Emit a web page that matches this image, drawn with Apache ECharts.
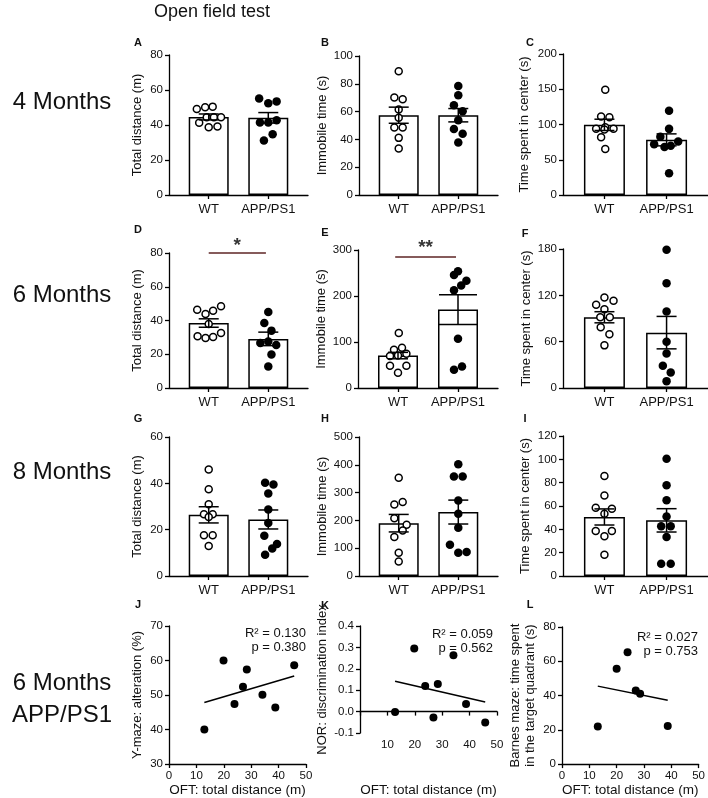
<!DOCTYPE html>
<html><head><meta charset="utf-8">
<script src="https://cdn.jsdelivr.net/npm/echarts@6/dist/echarts.min.js"></script>
<style>html,body{margin:0;padding:0;background:#fff}#c{width:708px;height:798px}</style>
</head><body><div id="c"></div>
<script>
// ---------------- data ----------------
const groups = ['WT', 'APP/PS1'];
const rowLabels = ['4 Months', '6 Months', '8 Months', '6 Months\nAPP/PS1'];
const yTitles = {
  dist: 'Total distance (m)', immob: 'Immobile time (s)', center: 'Time spent in center (s)',
  ymaze: 'Y-maze: alteration (%)', nor: 'NOR: discrimination index',
  barnes: 'Barnes maze: time spent\nin the target quadrant (s)'
};
const xTitleOFT = 'OFT: total distance (m)';

// Panel A
const aWT = [49.1, 50.1, 50.5, 41.3, 44.4, 44.4, 44.4, 38.7, 39.2];
const aWTx = [-0.30, -0.09, 0.10, -0.24, -0.05, 0.13, 0.31, 0.00, 0.22];
const aAPP = [55.2, 52.4, 53.5, 41.5, 41.5, 42.7, 34.7, 31.2];
const aAPPx = [-0.23, 0.00, 0.21, -0.21, 0.00, 0.21, 0.11, -0.11];
const aMean = [44.6, 44.1], aSem = [1.7, 3.0];
// Panel B
const bWT = [89.0, 70.1, 68.9, 61.5, 55.5, 48.6, 48.6, 41.1, 33.5];
const bWTx = [0, -0.11, 0.10, 0, 0, -0.11, 0.10, 0, 0];
const bAPP = [78.5, 71.8, 64.6, 60.3, 53.8, 47.4, 44.0, 37.8];
const bAPPx = [0, 0, -0.11, 0.11, 0, -0.11, 0.11, 0];
const bMean = [57.4, 57.4], bSem = [5.8, 4.8];
// Panel C
const cWT = [149.3, 111.4, 110.4, 94.0, 96.0, 94.0, 82.0, 65.4, 93.0];
const cWTx = [0.02, -0.08, 0.12, -0.20, 0.02, 0.22, -0.08, 0.02, 0.0];
const cAPP = [119.4, 93.8, 82.5, 72.0, 70.0, 68.0, 76.0, 31.0];
const cAPPx = [0.06, 0.06, -0.15, -0.30, 0.10, -0.05, 0.28, 0.06];
const cMean = [99.5, 78.2], cSem = [8.0, 8.5];
// Panel D
const dWT = [46.4, 43.9, 45.8, 48.4, 37.9, 30.6, 29.6, 30.2, 32.6];
const dWTx = [-0.29, -0.08, 0.11, 0.31, 0, -0.28, -0.08, 0.11, 0.31];
const dAPP = [45.1, 38.5, 34.0, 26.7, 27.5, 25.5, 19.8, 12.8];
const dAPPx = [0, -0.10, 0.08, -0.20, 0, 0.20, 0.08, 0];
const dMean = [38.5, 29.1], dSem = [2.5, 4.0];
// Panel E
const eWT = [119.6, 83.3, 87.6, 69.5, 70.9, 74.5, 48.4, 48.4, 33.1];
const eWTx = [0.02, -0.10, 0.10, -0.20, 0, 0.21, -0.20, 0.21, 0];
const eAPP = [254.0, 245.5, 233.0, 223.0, 212.7, 107.3, 39.6, 46.9];
const eAPPx = [0, -0.10, 0.21, 0.08, -0.10, 0, -0.10, 0.10];
const eMean = [70.5, 170.5], eSem = [7.0, 32.3];
// Panel F
const fWT = [107.7, 117.2, 113.1, 102.0, 91.6, 91.6, 78.6, 69.5, 55.2];
const fWTx = [-0.20, 0, 0.22, 0, -0.10, 0.13, -0.09, 0.12, 0];
const fAPP = [179.1, 135.8, 99.0, 60.0, 44.8, 28.8, 20.1, 8.9];
const fAPPx = [0, 0, 0, 0, 0, -0.09, 0.10, 0];
const fMean = [91.6, 71.7], fSem = [7.2, 21.0];
// Panel G
const gWT = [46.0, 37.4, 31.0, 26.7, 26.7, 25.5, 17.6, 17.6, 12.9];
const gWTx = [0, 0, 0, -0.12, 0.10, 0, -0.12, 0.10, 0];
const gAPP = [40.3, 39.5, 35.6, 28.7, 22.9, 17.4, 13.8, 11.9, 9.2];
const gAPPx = [-0.08, 0.13, 0, 0, 0, -0.10, 0.22, 0.10, -0.08];
const gMean = [26.4, 24.4], gSem = [3.5, 4.1];
// Panel H
const hWT = [353.5, 257.5, 266.0, 208.0, 184.0, 164.0, 140.0, 83.4, 52.2];
const hWTx = [0, -0.11, 0.10, -0.11, 0.20, 0.10, -0.11, 0, 0];
const hAPP = [401.6, 358.3, 358.3, 272.0, 224.0, 173.5, 112.4, 83.4, 86.0];
const hAPPx = [0, -0.11, 0.11, 0, 0, 0, -0.21, 0, 0.21];
const hMean = [190, 230], hSem = [31.5, 43];
// Panel I
const iWT = [85.7, 69.1, 58.6, 57.7, 53.4, 38.6, 38.6, 34.0, 18.3];
const iWTx = [0, 0, -0.21, 0.18, 0, -0.21, 0.18, 0, 0];
const iAPP = [100.6, 77.7, 64.9, 51.1, 42.6, 42.6, 33.4, 10.6, 10.6];
const iAPPx = [0, 0, 0, 0, -0.13, 0.10, 0, -0.13, 0.10];
const iMean = [50.6, 47.7], iSem = [6.9, 10.0];
// Panel J
const jX = [12.9, 19.9, 23.9, 27.0, 28.4, 34.1, 38.8, 45.7];
const jY = [40.0, 60.0, 47.4, 52.4, 57.4, 50.1, 46.4, 58.6];
const jFit = [[12.9, 47.8], [45.7, 55.5]];
const jStats = ['R\u00b2 = 0.130', 'p = 0.380'];
// Panel K
const kX = [12.8, 19.8, 23.8, 26.8, 28.4, 34.1, 38.7, 45.7];
const kY = [-0.002, 0.295, 0.120, -0.028, 0.129, 0.263, 0.036, -0.051];
const kFit = [[12.8, 0.142], [45.7, 0.045]];
const kStats = ['R\u00b2 = 0.059', 'p = 0.562'];
// Panel L
const lX = [13.1, 20.0, 24.0, 27.0, 28.6, 38.7];
const lY = [21.9, 55.6, 65.2, 42.9, 41.0, 22.3];
const lFit = [[13.1, 45.5], [38.7, 37.2]];
const lStats = ['R\u00b2 = 0.027', 'p = 0.753'];
// significance marks
const sigD = '*', sigE = '**';

// ---------------- chart building ----------------
const FONT = '"Liberation Sans", Arial, Helvetica, sans-serif';
const chart = echarts.init(document.getElementById('c'));
const grids = [], xAxes = [], yAxes = [], series = [], graphics = [];
const LINE = { color: '#000', width: 1.3 };
const POS = [1, 2.5];

function yAxisCfg(i, min, max, interval, name, gap, fmt) {
  return {
    type: 'value', gridIndex: i, min, max, interval,
    splitLine: { show: false },
    axisLine: { show: true, onZero: true, lineStyle: LINE },
    axisTick: { show: true, length: 4, lineStyle: LINE },
    axisLabel: { color: '#111', fontSize: 11.5, fontFamily: FONT, margin: 6, formatter: fmt },
    name, nameLocation: 'middle', nameRotate: 90, nameGap: gap,
    nameTextStyle: { color: '#111', fontSize: 13, fontFamily: FONT, lineHeight: 15 }
  };
}

function errRender(caps) {
  return function (params, api) {
    const x = api.value(0), lo = api.value(1), hi = api.value(2);
    const h = caps[api.value(3)];
    const a = api.coord([x, lo]), b = api.coord([x, hi]);
    const st = { stroke: '#000', lineWidth: 1.5 };
    return {
      type: 'group', children: [
        { type: 'line', shape: { x1: a[0], y1: a[1], x2: b[0], y2: b[1] }, style: st },
        { type: 'line', shape: { x1: b[0] - h, y1: b[1], x2: b[0] + h, y2: b[1] }, style: st },
        { type: 'line', shape: { x1: a[0] - h, y1: a[1], x2: a[0] + h, y2: a[1] }, style: st }
      ]
    };
  };
}

function barPanel(p) {
  const i = grids.length;
  grids.push({ left: p.box[0], top: p.box[1], width: p.box[2], height: p.box[3] });
  xAxes.push({
    type: 'value', gridIndex: i, min: 0, max: 3.5,
    splitLine: { show: false },
    axisLine: { show: true, onZero: false, lineStyle: LINE },
    axisTick: { show: true, length: 4, customValues: POS, lineStyle: LINE },
    axisLabel: { customValues: POS, color: '#111', fontSize: 13, fontFamily: FONT, margin: 8,
      formatter: v => groups[Math.abs(v - POS[0]) < 0.01 ? 0 : 1] }
  });
  yAxes.push(yAxisCfg(i, p.y[0], p.y[1], p.y[2], p.name, p.gap));
  const ax = { xAxisIndex: i, yAxisIndex: i, silent: true };
  series.push(Object.assign({
    type: 'bar', barWidth: p.barW, z: 2,
    data: p.mean.map((m, k) => [POS[k], m]),
    itemStyle: { color: '#fff', borderColor: '#000', borderWidth: 1.5 }
  }, ax));
  series.push(Object.assign({
    type: 'scatter', symbol: 'circle', symbolSize: 7, z: 3,
    data: p.wt.map((v, k) => [POS[0] + p.wtx[k], v]),
    itemStyle: { color: '#fff', borderColor: '#000', borderWidth: 1.5, opacity: 1 }
  }, ax));
  series.push(Object.assign({
    type: 'scatter', symbol: 'circle', symbolSize: 8.5, z: 3,
    data: p.app.map((v, k) => [POS[1] + p.appx[k], v]),
    itemStyle: { color: '#000', opacity: 1 }
  }, ax));
  series.push(Object.assign({
    type: 'custom', z: 4, renderItem: errRender(p.caps || [10, 10]),
    encode: { x: 0, y: [1, 2] },
    data: p.mean.map((m, k) => [POS[k], m - p.sem[k], m + p.sem[k], k])
  }, ax));
  if (p.sig) {
    series.push(Object.assign({
      type: 'line', z: 3, showSymbol: false, clip: false,
      data: [[p.sig.x[0], p.sig.y], [p.sig.x[1], p.sig.y]],
      lineStyle: { color: '#5e2424', width: 1.5 }
    }, ax));
    series.push(Object.assign({
      type: 'scatter', z: 5, symbolSize: 0, clip: false,
      data: [[(p.sig.x[0] + p.sig.x[1]) / 2, p.sig.y]],
      label: { show: true, position: 'inside', offset: [0, p.sig.off], formatter: p.sig.text,
        color: '#000', fontSize: 19, fontWeight: 'bold', fontFamily: FONT }
    }, ax));
  }
}

function scatterPanel(p) {
  const i = grids.length;
  grids.push({ left: p.box[0], top: p.box[1], width: p.box[2], height: p.box[3] });
  xAxes.push({
    type: 'value', gridIndex: i, min: 0, max: 50, interval: 10,
    splitLine: { show: false },
    axisLine: { show: true, onZero: true, lineStyle: LINE },
    axisTick: { show: true, length: 4, lineStyle: LINE },
    axisLabel: { color: '#111', fontSize: 11.5, fontFamily: FONT, margin: 6,
      formatter: v => (p.hideZero && v === 0) ? '' : String(v) },
    name: xTitleOFT, nameLocation: 'middle', nameGap: p.xGap,
    nameTextStyle: { color: '#111', fontSize: 13.5, fontFamily: FONT }
  });
  yAxes.push(yAxisCfg(i, p.y[0], p.y[1], p.y[2], p.name, p.gap, p.fmt));
  const ax = { xAxisIndex: i, yAxisIndex: i, silent: true };
  series.push(Object.assign({
    type: 'scatter', symbol: 'circle', symbolSize: 8, z: 3,
    data: p.xs.map((x, k) => [x, p.ys[k]]), itemStyle: { color: '#000', opacity: 1 }
  }, ax));
  series.push(Object.assign({
    type: 'line', z: 2, showSymbol: false, data: p.fit,
    lineStyle: { color: '#000', width: 1.5 }
  }, ax));
  p.stats.forEach((s, k) => graphics.push({
    type: 'text', x: p.statPos[0], y: p.statPos[1] + k * 14,
    style: { text: s, align: 'right', verticalAlign: 'middle', textAlign: 'right', textVerticalAlign: 'middle',
      fontSize: 13, fontFamily: FONT, fill: '#111' }
  }));
}

// Row 1
barPanel({ box: [169, 55, 139, 140], y: [0, 80, 20], name: yTitles.dist, gap: 24, barW: 40,
  wt: aWT, wtx: aWTx, app: aAPP, appx: aAPPx, mean: aMean, sem: aSem });
barPanel({ box: [359, 56, 139, 139], y: [0, 100, 20], name: yTitles.immob, gap: 27, barW: 40,
  wt: bWT, wtx: bWTx, app: bAPP, appx: bAPPx, mean: bMean, sem: bSem });
barPanel({ box: [563, 54, 145, 141], y: [0, 200, 50], name: yTitles.center, gap: 31, barW: 41,
  wt: cWT, wtx: cWTx, app: cAPP, appx: cAPPx, mean: cMean, sem: cSem });
// Row 2
barPanel({ box: [169, 253, 139, 135], y: [0, 80, 20], name: yTitles.dist, gap: 24, barW: 40,
  wt: dWT, wtx: dWTx, app: dAPP, appx: dAPPx, mean: dMean, sem: dSem,
  sig: { x: [1.0, 2.44], y: 80, text: sigD, off: -7 } });
barPanel({ box: [358, 250, 140, 138], y: [0, 300, 100], name: yTitles.immob, gap: 27, barW: 40,
  wt: eWT, wtx: eWTx, app: eAPP, appx: eAPPx, mean: eMean, sem: eSem, caps: [10, 19],
  sig: { x: [0.93, 2.45], y: 285, text: sigE, off: -9 } });
barPanel({ box: [563, 249, 145, 139], y: [0, 180, 60], name: yTitles.center, gap: 28, barW: 41,
  wt: fWT, wtx: fWTx, app: fAPP, appx: fAPPx, mean: fMean, sem: fSem });
// Row 3
barPanel({ box: [169, 437, 139, 139], y: [0, 60, 20], name: yTitles.dist, gap: 24, barW: 40,
  wt: gWT, wtx: gWTx, app: gAPP, appx: gAPPx, mean: gMean, sem: gSem });
barPanel({ box: [359, 437, 139, 139], y: [0, 500, 100], name: yTitles.immob, gap: 27, barW: 40,
  wt: hWT, wtx: hWTx, app: hAPP, appx: hAPPx, mean: hMean, sem: hSem });
barPanel({ box: [563, 436, 145, 140], y: [0, 120, 20], name: yTitles.center, gap: 30, barW: 41,
  wt: iWT, wtx: iWTx, app: iAPP, appx: iAPPx, mean: iMean, sem: iSem });
// Row 4
scatterPanel({ box: [169, 626, 137, 138], y: [30, 70, 10], name: yTitles.ymaze, gap: 24, xGap: 16,
  xs: jX, ys: jY, fit: jFit, stats: jStats, statPos: [306, 633] });
scatterPanel({ box: [360, 626, 137, 138], y: [-0.1, 0.4, 0.1], name: yTitles.nor, gap: 26, xGap: 50,
  hideZero: true, fmt: v => v.toFixed(1),
  xs: kX, ys: kY, fit: kFit, stats: kStats, statPos: [493, 634] });
scatterPanel({ box: [562, 627, 138, 138], y: [0, 80, 20], name: yTitles.barnes, gap: 24, xGap: 16,
  xs: lX, ys: lY, fit: lFit, stats: lStats, statPos: [698, 637] });

// Panel letters
const letters = [['A', 138, 43], ['B', 325, 43], ['C', 530, 43], ['D', 138, 230], ['E', 325, 233], ['F', 525, 234],
  ['G', 138, 419], ['H', 325, 419], ['I', 525, 419], ['J', 138, 605], ['K', 325, 606], ['L', 530, 605]];
letters.forEach(l => graphics.push({ type: 'text', x: l[1], y: l[2],
  style: { text: l[0], align: 'center', verticalAlign: 'middle', textAlign: 'center', textVerticalAlign: 'middle',
    fontSize: 11, fontWeight: 'bold', fontFamily: FONT, fill: '#111' } }));
// Row labels
const rowY = [102, 295, 472, 699];
rowLabels.forEach((t, k) => graphics.push({ type: 'text', x: 62, y: rowY[k],
  style: { text: t, align: 'center', verticalAlign: 'middle', textAlign: 'center', textVerticalAlign: 'middle',
    fontSize: 24, lineHeight: 32, fontFamily: FONT, fill: '#111' } }));
// Figure title
graphics.push({ type: 'text', x: 212, y: 12,
  style: { text: 'Open field test', align: 'center', verticalAlign: 'middle', textAlign: 'center', textVerticalAlign: 'middle',
    fontSize: 18, fontFamily: FONT, fill: '#111' } });

chart.setOption({
  animation: false,
  backgroundColor: '#fff',
  textStyle: { fontFamily: FONT },
  grid: grids, xAxis: xAxes, yAxis: yAxes, series, graphic: graphics
});
</script>
</body></html>
